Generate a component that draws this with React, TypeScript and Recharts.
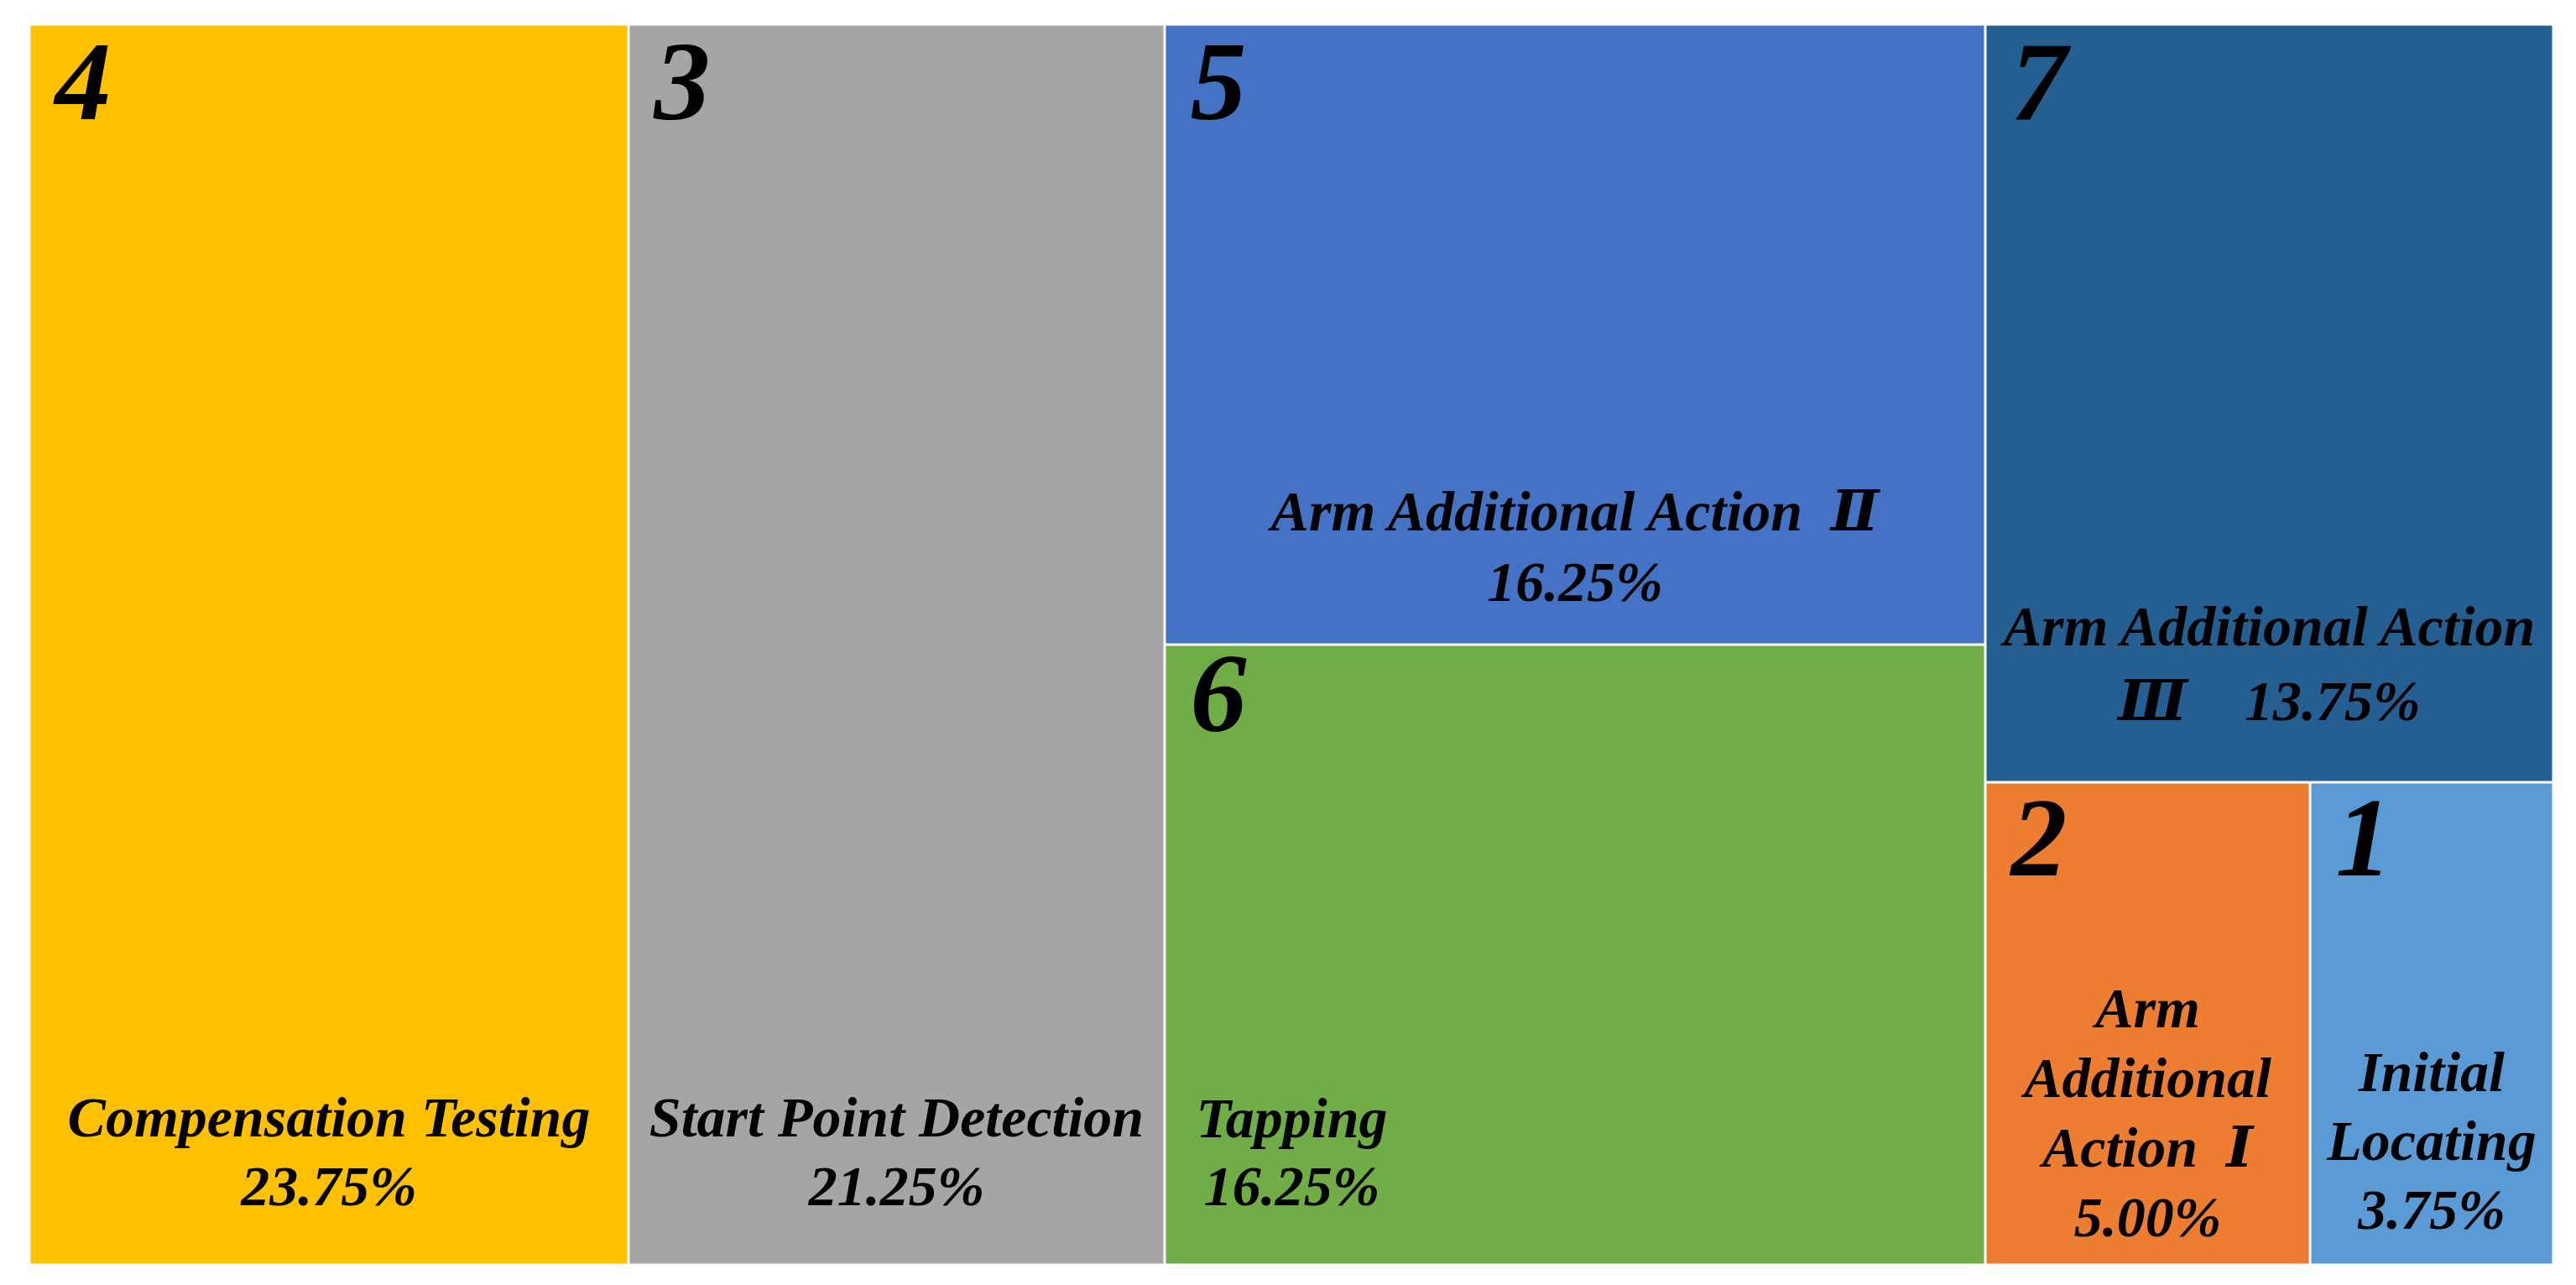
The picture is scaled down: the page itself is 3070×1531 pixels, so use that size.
import React from 'react';
import { Treemap } from 'recharts';

// steps of the process, in drawing order
const stepNumbers = [4, 3, 5, 6, 7, 2, 1];
const stepNames = [
  'Compensation Testing',
  'Start Point Detection',
  'Arm Additional Action Ⅱ',
  'Tapping',
  'Arm Additional Action Ⅲ',
  'Arm Additional Action Ⅰ',
  'Initial Locating',
];
const stepShares = [23.75, 21.25, 16.25, 16.25, 13.75, 5.0, 3.75];
// how each label wraps; {p} is replaced by the share
const stepLabelLines = [
  ['Compensation Testing', '{p}'],
  ['Start Point Detection', '{p}'],
  ['Arm Additional Action\u00a0\u00a0Ⅱ', '{p}'],
  ['Tapping', '{p}'],
  ['Arm Additional Action', 'Ⅲ\u00a0\u00a0\u00a0\u00a0{p}'],
  ['Arm', 'Additional', 'Action\u00a0\u00a0Ⅰ', '{p}'],
  ['Initial', 'Locating', '{p}'],
];
const stepColors = ['#FFC000', '#A5A5A5', '#4472C4', '#70AD47', '#255E91', '#ED7D31', '#5B9BD5'];

// nesting used for the squarified layout (indices into the arrays above)
type Group = number | Group[];
const groups: Group[] = [0, 1, [2, 3], [4, [5, 6]]];

const leaf = (i: number) => ({ name: stepNames[i], value: stepShares[i], idx: i });
const build = (g: Group, key: string): any =>
  typeof g === 'number' ? leaf(g) : { name: key, children: g.map((c, j) => build(c, key + '-' + j)) };
const treeData = groups.map((g, j) => build(g, 'group' + j));

const FONT = '"Liberation Serif", "Times New Roman", "DejaVu Serif", serif';

// label placement tweaks (gap from bottom of cell to last baseline, line height, x center, number shift)
const labelStyle: Record<number, { gap: number; lh: number; cx?: number; ndy?: number }> = {
  4: { gap: 70, lh: 82 },
  3: { gap: 70, lh: 82 },
  5: { gap: 51, lh: 84 },
  6: { gap: 70, lh: 81, cx: 150, ndy: -10 },
  7: { gap: 73, lh: 89 },
  2: { gap: 33, lh: 83, ndy: -2 },
  1: { gap: 42, lh: 82, ndy: -2 },
};

const renderCell = (props: any) => {
  const { x, y, width, height, idx } = props;
  if (idx == null) return <g />;
  const step = stepNumbers[idx];
  const st = labelStyle[step];
  const pct = stepShares[idx].toFixed(2) + '%';
  const lines = stepLabelLines[idx].map((l) => l.replace('{p}', pct));
  const rx = x + 1.5;
  const ry = y + 1.5;
  const rw = width - 3;
  const rh = height - 3;
  const cx = st.cx != null ? rx + st.cx : rx + rw / 2;
  const lastBase = ry + rh - st.gap;
  return (
    <g>
      <rect x={rx} y={ry} width={rw} height={rh} fill={stepColors[idx]} />
      <text
        x={rx + 29}
        y={ry + 111 + (st.ndy || 0)}
        fontSize={134}
        fontFamily={FONT}
        fontWeight="bold"
        fontStyle="italic"
        fill="#000"
      >
        {step}
      </text>
      {lines.map((l, i) => (
        <text
          key={i}
          x={cx}
          y={lastBase - (lines.length - 1 - i) * st.lh}
          textAnchor="middle"
          fontSize={68}
          fontFamily={FONT}
          fontWeight="bold"
          fontStyle="italic"
          fill="#000"
        >
          {l}
        </text>
      ))}
    </g>
  );
};

export default function App() {
  return (
    <div style={{ position: 'absolute', left: 35, top: 29, width: 3008, height: 1478 }}>
      <style>{'.recharts-surface { overflow: visible; }'}</style>
      <Treemap
        width={3008}
        height={1478}
        data={treeData}
        dataKey="value"
        aspectRatio={0.5}
        isAnimationActive={false}
        content={renderCell}
      />
    </div>
  );
}
